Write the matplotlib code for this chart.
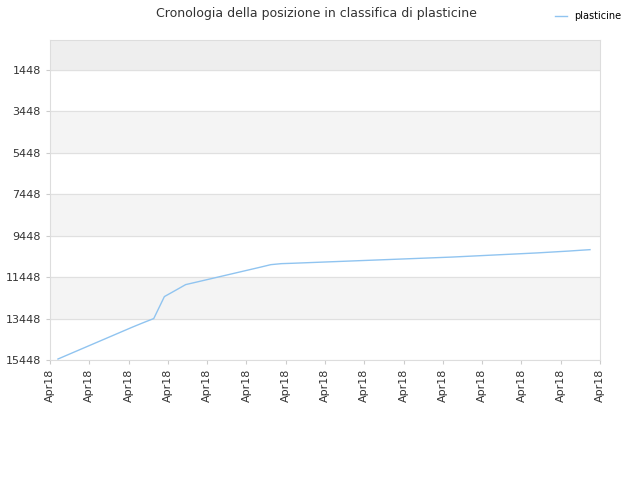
import matplotlib
matplotlib.use("Agg")
import matplotlib.pyplot as plt
import numpy as np

# rank per day (lower is better)
ranks = [15400, 15180, 14960, 14740, 14520, 14300, 14080, 13860, 13650, 13448,
         12387, 12100, 11809, 11690, 11570, 11450, 11330, 11210, 11090, 10970,
         10846, 10797, 10780, 10760, 10740, 10720, 10700, 10680, 10660, 10640,
         10620, 10600, 10580, 10560, 10540, 10520, 10500, 10480, 10455, 10430,
         10405, 10380, 10355, 10330, 10305, 10280, 10250, 10220, 10190, 10155, 10122]
days = np.arange(len(ranks))
yticks = [1448, 3448, 5448, 7448, 9448, 11448, 13448, 15448]
xlabel = "Apr18"
n_xticks = 15

fig = plt.figure(figsize=(6.4, 4.8), dpi=100)
ax = fig.add_axes([50/640, 120/480, 550/640, 320/480])
xlim = (-0.75, 50.94)
ax.set_xlim(*xlim)
ax.set_ylim(15448, 2)

# bands
ax.axhspan(2, 1448, color="#eeeeee", zorder=0)
for i in range(len(yticks) - 1):
    if i % 2 == 1:
        ax.axhspan(yticks[i], yticks[i + 1], color="#f4f4f4", zorder=0)
for y in yticks:
    ax.axhline(y, color="#e0e0e0", lw=0.8, zorder=1)

ax.plot(days, ranks, color="#90c4f0", lw=1, label="plasticine", zorder=3)

ax.set_yticks(yticks)
ax.set_yticklabels([str(y) for y in yticks], fontsize=8, color="#333333")
ax.set_xticks(np.linspace(xlim[0], xlim[1], n_xticks))
ax.set_xticklabels([xlabel] * n_xticks, rotation=90, fontsize=8, color="#333333")
ax.tick_params(length=3, color="#cccccc")
for s in ax.spines.values():
    s.set_color("#dddddd")

fig.text(0.495, 0.972, "Cronologia della posizione in classifica di plasticine",
         ha="center", va="center", fontsize=9, color="#333333")
fig.legend(loc="upper right", bbox_to_anchor=(0.985, 0.995), frameon=False,
           fontsize=7, handlelength=1.2)

fig.savefig("out.png", dpi=100)
